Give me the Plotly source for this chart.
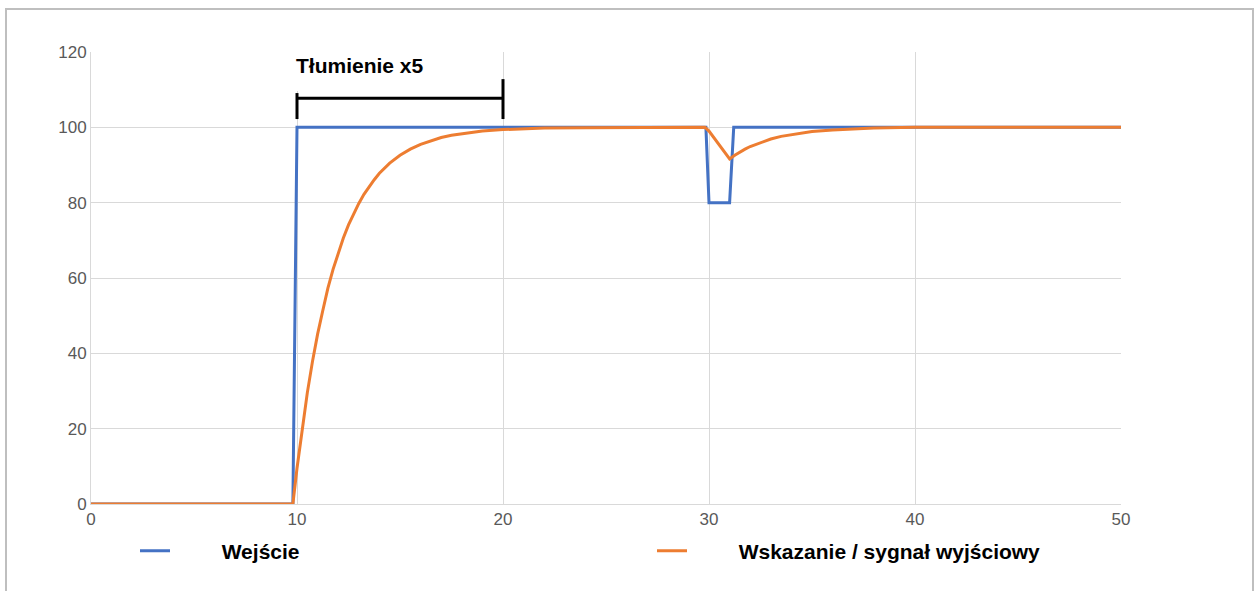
import plotly.graph_objects as go

# Input step signal (with a short dip at t = 30 s)
t_wejscie = [0, 9.8, 10, 29.85, 30, 31, 31.2, 50]
wejscie = [0, 0, 100, 100, 80, 80, 100, 100]

# Damped indication / output signal
t_wyjscie = [0, 9.8, 10, 10.25, 10.5, 10.75, 11, 11.25, 11.5, 11.75, 12, 12.25, 12.5,
             12.75, 13, 13.25, 13.5, 13.75, 14, 14.5, 15, 15.5, 16, 16.5, 17, 17.5,
             18, 18.5, 19, 20, 21, 22, 24, 26, 29.8, 30, 30.25, 30.5, 30.75, 31,
             31.25, 31.5, 31.75, 32, 32.5, 33, 33.5, 34, 34.5, 35, 36, 37, 38, 40, 50]
wyjscie = [0, 0, 9.5, 20.1, 29.5, 37.8, 45.1, 51.3, 57.3, 62.3, 66.7, 70.6, 74.1,
           77.1, 79.8, 82.2, 84.3, 86.1, 87.8, 90.5, 92.6, 94.2, 95.5, 96.5, 97.3, 97.9,
           98.3, 98.7, 99.0, 99.4, 99.6, 99.8, 99.9, 100, 100, 99.0, 97.2, 95.3, 93.4, 91.6,
           92.6, 93.5, 94.2, 94.9, 96.0, 96.9, 97.6, 98.1, 98.5, 98.9, 99.3, 99.6, 99.8, 100, 100]

x_ticks = [0, 10, 20, 30, 40, 50]
y_ticks = [0, 20, 40, 60, 80, 100, 120]

# Bracket marking the damping span
bracket_x = [10, 20]
bracket_y = 107.7

BLUE = "#4472C4"
ORANGE = "#ED7D31"
GRID = "#d9d9d9"
FONT = "Liberation Sans, Arial, sans-serif"
GAP = "\u00a0" * 8  # spacing between legend swatch and label

W, H = 1254, 591
L, R, T, B = 91, 133, 52, 87
pw, ph = W - L - R, H - T - B


def px_x(p):
    return (p - L) / pw


def px_y(p):
    return (H - B - p) / ph


fig = go.Figure()
fig.add_trace(go.Scatter(
    x=t_wejscie, y=wejscie, mode="lines", name=GAP + "Wejście",
    line=dict(color=BLUE, width=3), legend="legend", showlegend=True,
))
fig.add_trace(go.Scatter(
    x=t_wyjscie, y=wyjscie, mode="lines", name=GAP + "Wskazanie / sygnał wyjściowy",
    line=dict(color=ORANGE, width=3), legend="legend2", showlegend=True,
))

shapes = [
    # outer frame
    dict(type="rect", xref="paper", yref="paper",
         x0=px_x(6), x1=px_x(1253), y0=px_y(640), y1=px_y(9),
         line=dict(color="#bfbfbf", width=2), fillcolor="rgba(0,0,0,0)", layer="below"),
    # white box behind the label
    dict(type="rect", xref="paper", yref="paper",
         x0=px_x(276), x1=px_x(465), y0=px_y(91), y1=px_y(42),
         line=dict(width=0), fillcolor="white", layer="above"),
    # bracket
    dict(type="line", xref="x", yref="y", x0=bracket_x[0], x1=bracket_x[1],
         y0=bracket_y, y1=bracket_y, line=dict(color="black", width=3), layer="above"),
    dict(type="line", xref="x", yref="y", x0=bracket_x[0], x1=bracket_x[0],
         y0=102.2, y1=109.1, line=dict(color="black", width=3), layer="above"),
    dict(type="line", xref="x", yref="y", x0=bracket_x[1], x1=bracket_x[1],
         y0=102.2, y1=112.8, line=dict(color="black", width=3), layer="above"),
]

legend_font = dict(family=FONT, size=21, color="black", weight="bold")

fig.update_layout(
    width=W, height=H,
    margin=dict(l=L, r=R, t=T, b=B),
    paper_bgcolor="white", plot_bgcolor="white",
    font=dict(family=FONT, size=17, color="#595959"),
    showlegend=True,
    shapes=shapes,
    annotations=[dict(
        x=bracket_x[0], y=116.3, xref="x", yref="y", xanchor="left", yanchor="middle",
        xshift=-3, text="Tłumienie x5", showarrow=False,
        font=dict(family=FONT, size=21, color="black", weight="bold"),
    )],
    legend=dict(
        orientation="h", x=px_x(135), y=px_y(551), xanchor="left", yanchor="middle",
        itemwidth=30, font=legend_font, bgcolor="rgba(0,0,0,0)",
    ),
    legend2=dict(
        orientation="h", x=px_x(652), y=px_y(551), xanchor="left", yanchor="middle",
        itemwidth=30, font=legend_font, bgcolor="rgba(0,0,0,0)",
    ),
    xaxis=dict(
        range=[0, 50], tickvals=x_ticks, ticktext=[str(v) for v in x_ticks],
        showgrid=True, gridcolor=GRID, gridwidth=1, zeroline=False,
        showline=True, linecolor=GRID, linewidth=1, ticks="",
        tickfont=dict(size=17, color="#595959"),
    ),
    yaxis=dict(
        range=[0, 120], tickvals=y_ticks, ticktext=[str(v) for v in y_ticks],
        showgrid=True, gridcolor=GRID, gridwidth=1, zeroline=False,
        showline=True, linecolor=GRID, linewidth=1, ticks="",
        tickfont=dict(size=17, color="#595959"),
    ),
)

fig.write_html("out.html")
